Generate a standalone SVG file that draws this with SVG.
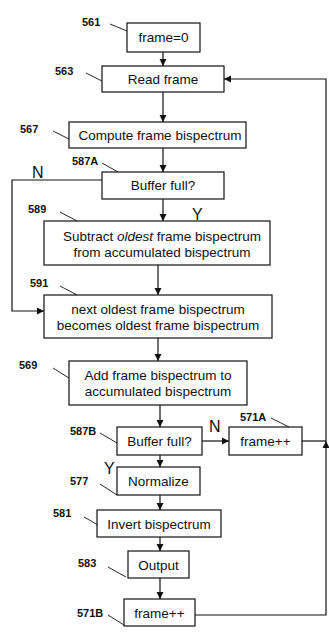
<svg xmlns="http://www.w3.org/2000/svg" width="329" height="634" viewBox="0 0 329 634">
<style>
.box{fill:#fff;stroke:#111;stroke-width:1.2}
.t{font-family:"Liberation Sans",Arial,sans-serif;font-size:13.5px;fill:#111;text-anchor:middle}
.lbl{font-family:"Liberation Sans",Arial,sans-serif;font-size:11px;font-weight:bold;fill:#111}
.yn{font-family:"Liberation Sans",Arial,sans-serif;font-size:16px;fill:#111}
.ln{fill:none;stroke:#111;stroke-width:1.2}
.ld{fill:none;stroke:#111;stroke-width:0.9}
</style>
<defs>
<marker id="ah" markerWidth="8" markerHeight="8" refX="7" refY="4" orient="auto" markerUnits="userSpaceOnUse">
<path d="M0,0.5 L7,4 L0,7.5 Z" fill="#111"/>
</marker>
</defs>
<rect width="329" height="634" fill="#fff"/>
<g id="connectors">
<line class="ln" x1="163" y1="52" x2="163" y2="66" marker-end="url(#ah)"/>
<line class="ln" x1="163" y1="92" x2="163" y2="122" marker-end="url(#ah)"/>
<line class="ln" x1="163" y1="148" x2="163" y2="172" marker-end="url(#ah)"/>
<line class="ln" x1="163" y1="199" x2="163" y2="221" marker-end="url(#ah)"/>
<line class="ln" x1="158" y1="265" x2="158" y2="295" marker-end="url(#ah)"/>
<polyline class="ln" points="102,180 12,180 12,311 44,311" marker-end="url(#ah)"/>
<line class="ln" x1="158" y1="338" x2="158" y2="361" marker-end="url(#ah)"/>
<line class="ln" x1="160" y1="405" x2="160" y2="427" marker-end="url(#ah)"/>
<line class="ln" x1="202" y1="441" x2="229" y2="441" marker-end="url(#ah)"/>
<line class="ln" x1="160" y1="455" x2="160" y2="467" marker-end="url(#ah)"/>
<line class="ln" x1="160" y1="495" x2="160" y2="510" marker-end="url(#ah)"/>
<line class="ln" x1="160" y1="537" x2="160" y2="551" marker-end="url(#ah)"/>
<line class="ln" x1="160" y1="578" x2="160" y2="599" marker-end="url(#ah)"/>
<line class="ln" x1="302" y1="441" x2="326" y2="441"/>
<polyline class="ln" points="195,615 326,615 326,441" marker-end="url(#ah)"/>
<polyline class="ln" points="326,441 326,79 224,79" marker-end="url(#ah)"/>
<text class="yn" x="32" y="178">N</text>
<text class="yn" x="192" y="220">Y</text>
<text class="yn" x="209" y="432">N</text>
<text class="yn" x="104" y="474">Y</text>
</g>
<g id="n561">
<rect class="box" x="127" y="23" width="73" height="29"/>
<text class="t" x="163.5" y="42">frame=0</text>
<text class="lbl" x="82" y="26">561</text>
<line class="ld" x1="110" y1="24" x2="127" y2="31"/>
</g>
<g id="n563">
<rect class="box" x="102" y="66" width="122" height="26"/>
<text class="t" x="163" y="84">Read frame</text>
<text class="lbl" x="55" y="75">563</text>
<line class="ld" x1="86" y1="73" x2="102" y2="81"/>
</g>
<g id="n567">
<rect class="box" x="69" y="122" width="177" height="26"/>
<text class="t" x="160" y="140">Compute frame bispectrum</text>
<text class="lbl" x="20" y="133">567</text>
<line class="ld" x1="53" y1="131" x2="69" y2="139"/>
</g>
<g id="n587A">
<rect class="box" x="102" y="172" width="122" height="27"/>
<text class="t" x="163" y="190">Buffer full?</text>
<text class="lbl" x="72" y="165">587A</text>
<line class="ld" x1="102" y1="163" x2="118" y2="172"/>
</g>
<g id="n589">
<rect class="box" x="44" y="221" width="226" height="44"/>
<text class="t" x="162" y="241">Subtract <tspan font-style="italic">oldest</tspan> frame bispectrum</text>
<text class="t" x="162" y="257">from accumulated bispectrum</text>
<text class="lbl" x="28" y="213">589</text>
<line class="ld" x1="60" y1="212" x2="77" y2="221"/>
</g>
<g id="n591">
<rect class="box" x="44" y="295" width="228" height="43"/>
<text class="t" x="158" y="314">next oldest frame bispectrum</text>
<text class="t" x="158" y="330">becomes oldest frame bispectrum</text>
<text class="lbl" x="30" y="287">591</text>
<line class="ld" x1="60" y1="286" x2="77" y2="295"/>
</g>
<g id="n569">
<rect class="box" x="69" y="361" width="178" height="44"/>
<text class="t" x="158" y="380">Add frame bispectrum to</text>
<text class="t" x="158" y="396">accumulated bispectrum</text>
<text class="lbl" x="19" y="369">569</text>
<line class="ld" x1="53" y1="368" x2="69" y2="378"/>
</g>
<g id="n587B">
<rect class="box" x="117" y="427" width="85" height="28"/>
<text class="t" x="159.5" y="446">Buffer full?</text>
<text class="lbl" x="70" y="435">587B</text>
<line class="ld" x1="100" y1="433" x2="117" y2="443"/>
</g>
<g id="n571A">
<rect class="box" x="229" y="427" width="73" height="28"/>
<text class="t" x="265.5" y="446">frame++</text>
<text class="lbl" x="240" y="421">571A</text>
<line class="ld" x1="271" y1="418" x2="289" y2="427"/>
</g>
<g id="n577">
<rect class="box" x="117" y="467" width="83" height="28"/>
<text class="t" x="158.5" y="486">Normalize</text>
<text class="lbl" x="70" y="485">577</text>
<line class="ld" x1="100" y1="484" x2="117" y2="495"/>
</g>
<g id="n581">
<rect class="box" x="97" y="510" width="124" height="27"/>
<text class="t" x="159" y="529">Invert bispectrum</text>
<text class="lbl" x="53" y="517">581</text>
<line class="ld" x1="84" y1="517" x2="98" y2="525"/>
</g>
<g id="n583">
<rect class="box" x="128" y="551" width="61" height="27"/>
<text class="t" x="158.5" y="570">Output</text>
<text class="lbl" x="78" y="567">583</text>
<line class="ld" x1="108" y1="567" x2="126" y2="577"/>
</g>
<g id="n571B">
<rect class="box" x="124" y="599" width="71" height="27"/>
<text class="t" x="159.5" y="618">frame++</text>
<text class="lbl" x="77" y="617">571B</text>
<line class="ld" x1="108" y1="615" x2="124" y2="625"/>
</g>
</svg>
